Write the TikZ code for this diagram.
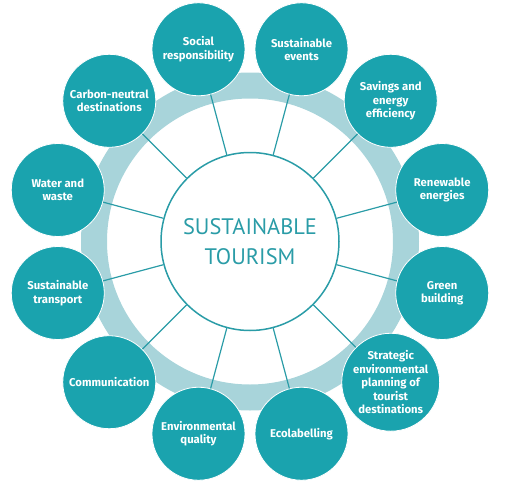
\documentclass[tikz,border=0pt]{standalone}
\usepackage{fontspec}
\setmainfont{Fira Sans}
\newfontfamily\centerfont{PT Sans}
\definecolor{topicfill}{HTML}{1AA3AE}
\definecolor{ringfill}{HTML}{A8D4DA}
\definecolor{tealline}{HTML}{2A9CA7}
\begin{document}
\begin{tikzpicture}[x=1pt,y=-1pt,
  topic/.style={circle, fill=topicfill, draw=white, line width=0.8pt, minimum size=93pt, inner sep=0pt, text=white, font=\bfseries\fontsize{11.3}{13.5}\selectfont, align=center},
  spoke/.style={draw=tealline, line width=1.2pt},
  hubstyle/.style={circle, draw=tealline, line width=1.5pt, fill=white, minimum size=178pt, inner sep=0pt, text=tealline, align=center, font=\centerfont\fontsize{22.4}{30}\selectfont}]
\useasboundingbox (0,0) rectangle (507,488);
\coordinate (c) at (250,241.5);
\fill[ringfill, even odd rule] (c) circle (169pt) (c) circle (143pt);
\node[hubstyle] (hub) at (c) {SUSTAINABLE\\TOURISM};
\node[topic] (t1) at ([shift={(75:199pt)}]c) {Sustainable\\events};
\node[topic] (t2) at ([shift={(45:199pt)}]c) {Savings and\\energy\\efficiency};
\node[topic] (t3) at ([shift={(15:199pt)}]c) {Renewable\\energies};
\node[topic] (t4) at ([shift={(-15:199pt)}]c) {Green\\building};
\node[topic] (t5) at ([shift={(-45:199pt)}]c) {Strategic\\environmental\\planning of\\tourist\\destinations};
\node[topic] (t6) at ([shift={(-75:199pt)}]c) {Ecolabelling};
\node[topic] (t7) at ([shift={(-105:199pt)}]c) {Environmental\\quality};
\node[topic] (t8) at ([shift={(-135:199pt)}]c) {Communication};
\node[topic] (t9) at ([shift={(-165:199pt)}]c) {Sustainable\\transport};
\node[topic] (t10) at ([shift={(165:199pt)}]c) {Water and\\waste};
\node[topic] (t11) at ([shift={(135:199pt)}]c) {Carbon-neutral\\destinations};
\node[topic] (t12) at ([shift={(105:199pt)}]c) {Social\\responsibility};
\foreach \i in {1,...,12} {\draw[spoke] (hub) -- (t\i);}
\end{tikzpicture}
\end{document}
